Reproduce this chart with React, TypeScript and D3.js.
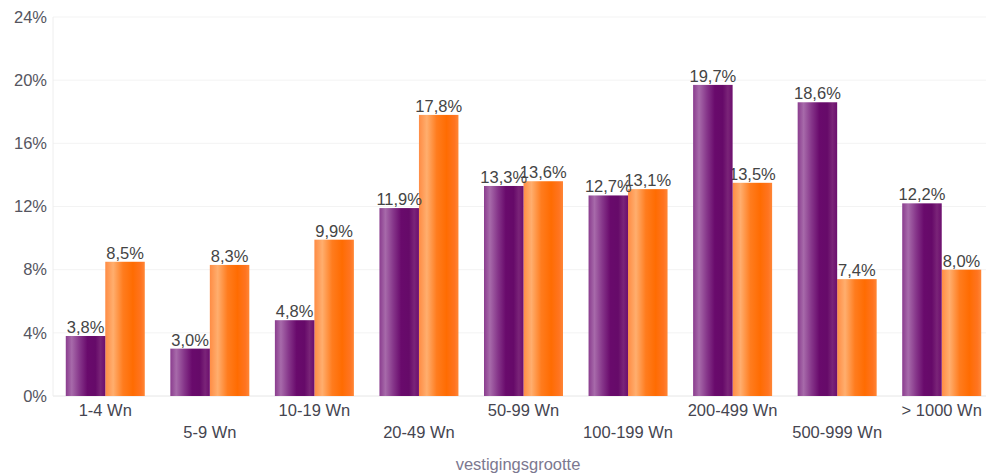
import * as d3 from "d3";
import React from "react";

// data
const categories = [
  "1-4 Wn", "5-9 Wn", "10-19 Wn", "20-49 Wn", "50-99 Wn",
  "100-199 Wn", "200-499 Wn", "500-999 Wn", "> 1000 Wn",
];
const purpleValues = [3.8, 3.0, 4.8, 11.9, 13.3, 12.7, 19.7, 18.6, 12.2];
const orangeValues = [8.5, 8.3, 9.9, 17.8, 13.6, 13.1, 13.5, 7.4, 8.0];
const yTicks = [0, 4, 8, 12, 16, 20, 24];
const axisTitle = "vestigingsgrootte";

const W = 986;
const H = 476;
const margin = { top: 17, right: -8, bottom: 80, left: 53 };

const fmt = (v: number) => v.toFixed(1).replace(".", ",") + "%";

const App: React.FC = () => {
  const ref = React.useRef<SVGSVGElement | null>(null);

  React.useEffect(() => {
    const svg = d3.select(ref.current);
    svg.selectAll("*").remove();

    const x = d3.scaleBand<string>()
      .domain(categories)
      .range([margin.left, W - margin.right])
      .paddingInner(0)
      .paddingOuter(0);
    const y = d3.scaleLinear().domain([0, 24]).range([H - margin.bottom, margin.top]);

    const defs = svg.append("defs");
    const pg = defs.append("linearGradient").attr("id", "gPurple").attr("x1", "0").attr("x2", "1").attr("y1", "0").attr("y2", "0");
    [["0%", "#8a3c8e"], ["15%", "#a76aaa"], ["35%", "#86368a"], ["55%", "#690a6c"], ["75%", "#660a69"], ["88%", "#7a2478"], ["100%", "#6c0e6e"]]
      .forEach(([o, c]) => pg.append("stop").attr("offset", o).attr("stop-color", c));
    const og = defs.append("linearGradient").attr("id", "gOrange").attr("x1", "0").attr("x2", "1").attr("y1", "0").attr("y2", "0");
    [["0%", "#ff8c44"], ["20%", "#ffae6e"], ["45%", "#ff7c1e"], ["70%", "#ff6c02"], ["90%", "#ff7420"], ["100%", "#ff8636"]]
      .forEach(([o, c]) => og.append("stop").attr("offset", o).attr("stop-color", c));

    // grid
    svg.append("g").selectAll("line").data(yTicks).join("line")
      .attr("x1", margin.left).attr("x2", W)
      .attr("y1", (d) => y(d)).attr("y2", (d) => y(d))
      .attr("stroke", (d) => (d === 0 ? "#e6e6e6" : "#f3f3f3"))
      .attr("stroke-width", 1);
    svg.append("line")
      .attr("x1", margin.left).attr("x2", margin.left)
      .attr("y1", y(24)).attr("y2", y(0))
      .attr("stroke", "#eeeeee");

    // y tick labels
    svg.append("g").selectAll("text").data(yTicks).join("text")
      .attr("x", margin.left - 6).attr("y", (d) => y(d))
      .attr("dy", "0.35em")
      .attr("text-anchor", "end")
      .attr("font-family", "Liberation Sans, Arial, sans-serif")
      .attr("font-size", 16.5)
      .attr("fill", "#555560")
      .text((d) => d + "%");

    const bw = 39.5;
    const gap = (x.bandwidth() - 2 * bw) / 2;
    const labelFont = (sel: any) => sel
      .attr("text-anchor", "middle")
      .attr("font-family", "Liberation Sans, Arial, sans-serif")
      .attr("font-size", 16.5)
      .attr("fill", "#444444");

    // orange bars + labels first, purple after (purple covers orange label as in the picture)
    svg.append("g").selectAll("rect").data(orangeValues).join("rect")
      .attr("x", (_, i) => (x(categories[i]) as number) + gap + bw)
      .attr("y", (d) => y(d))
      .attr("width", bw)
      .attr("height", (d) => y(0) - y(d))
      .attr("fill", "url(#gOrange)");
    svg.append("g").selectAll("text").data(orangeValues).join("text")
      .attr("x", (_, i) => (x(categories[i]) as number) + gap + bw * 1.5)
      .attr("y", (d) => y(d) - 3)
      .call(labelFont)
      .text((d) => fmt(d));

    svg.append("g").selectAll("rect").data(purpleValues).join("rect")
      .attr("x", (_, i) => (x(categories[i]) as number) + gap)
      .attr("y", (d) => y(d))
      .attr("width", bw)
      .attr("height", (d) => y(0) - y(d))
      .attr("fill", "url(#gPurple)");
    svg.append("g").selectAll("text").data(purpleValues).join("text")
      .attr("x", (_, i) => (x(categories[i]) as number) + gap + bw * 0.5)
      .attr("y", (d) => y(d) - 3)
      .call(labelFont)
      .text((d) => fmt(d));

    // x labels, staggered
    svg.append("g").selectAll("text").data(categories).join("text")
      .attr("x", (d) => (x(d) as number) + x.bandwidth() / 2)
      .attr("y", (_, i) => (i % 2 === 0 ? y(0) + 20 : y(0) + 42))
      .attr("text-anchor", "middle")
      .attr("font-family", "Liberation Sans, Arial, sans-serif")
      .attr("font-size", 16.5)
      .attr("fill", "#454550")
      .text((d) => d);

    svg.append("text")
      .attr("x", 518).attr("y", 470)
      .attr("text-anchor", "middle")
      .attr("font-family", "Liberation Sans, Arial, sans-serif")
      .attr("font-size", 16.5)
      .attr("fill", "#7c7890")
      .text(axisTitle);
  }, []);

  return (
    <div style={{ position: "absolute", left: 0, top: 0 }}>
      <svg ref={ref} width={W} height={H} style={{ display: "block", background: "#fff" }} />
    </div>
  );
};

export default App;
